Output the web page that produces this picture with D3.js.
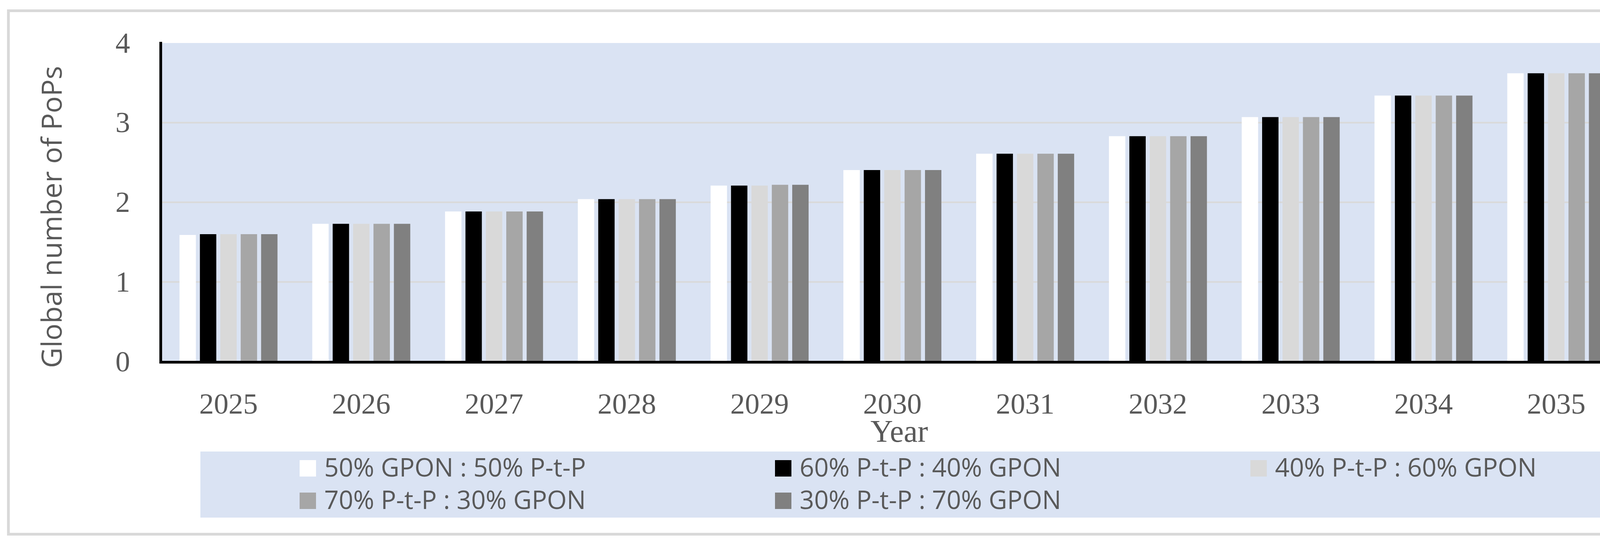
<!DOCTYPE html>
<html>
<head>
<meta charset="utf-8">
<script src="https://cdn.jsdelivr.net/npm/d3@7"></script>
<style>
  html, body { margin: 0; padding: 0; background: #fff; overflow: hidden; }
  svg { display: block; }
  .tick text { fill: #595959; }
</style>
</head>
<body>
<div id="chart"></div>
<script>
(function (d3) {
    'use strict';

    // Data.
    var years = ['2025', '2026', '2027', '2028', '2029', '2030', '2031', '2032', '2033', '2034', '2035'];
    var seriesNames = [
        '50% GPON : 50% P-t-P',
        '60% P-t-P : 40% GPON',
        '40% P-t-P : 60% GPON',
        '70% P-t-P : 30% GPON',
        '30% P-t-P : 70% GPON'
    ];
    var gpon50 = [1.59, 1.73, 1.885, 2.04, 2.21, 2.405, 2.61, 2.83, 3.07, 3.34, 3.62];
    var ptp60 = [1.60, 1.73, 1.885, 2.04, 2.21, 2.405, 2.61, 2.83, 3.07, 3.34, 3.62];
    var ptp40 = [1.60, 1.73, 1.885, 2.04, 2.21, 2.405, 2.61, 2.83, 3.07, 3.34, 3.62];
    var ptp70 = [1.60, 1.73, 1.885, 2.04, 2.22, 2.405, 2.61, 2.83, 3.07, 3.34, 3.62];
    var ptp30 = [1.60, 1.73, 1.885, 2.04, 2.22, 2.405, 2.61, 2.83, 3.07, 3.34, 3.62];
    var yTicks = [0, 1, 2, 3, 4];

    var seriesValues = [gpon50, ptp60, ptp40, ptp70, ptp30];
    var colors = ['#ffffff', '#000000', '#d9d9d9', '#a6a6a6', '#808080'];

    var W = 4271, H = 1389;
    var plot = {left: 415, right: 4154, top: 110, bottom: 925};

    var svg = d3.select('#chart').append('svg')
        .attr('width', W)
        .attr('height', H);

    // Outer frame
    svg.append('rect')
        .attr('x', 21.5).attr('y', 27.5)
        .attr('width', 4225).attr('height', 1339)
        .attr('fill', '#fff')
        .attr('stroke', '#d9d9d9')
        .attr('stroke-width', 7);

    var x0 = d3.scaleBand()
        .domain(years)
        .range([plot.left, plot.right])
        .paddingInner(0.262)
        .paddingOuter(0.131);

    var x1 = d3.scaleBand()
        .domain(d3.range(seriesNames.length))
        .range([0, x0.bandwidth()])
        .paddingInner(0.197);

    var y = d3.scaleLinear()
        .domain([0, 4])
        .range([plot.bottom, plot.top]);

    // Plot background
    svg.append('rect')
        .attr('x', plot.left).attr('y', plot.top)
        .attr('width', plot.right - plot.left)
        .attr('height', plot.bottom - plot.top)
        .attr('fill', '#dae3f3');

    // Gridlines
    svg.append('g')
        .selectAll('line')
        .data(yTicks.filter(function (t) { return t > 0 && t < 4; }))
        .join('line')
        .attr('x1', plot.left).attr('x2', plot.right)
        .attr('y1', function (d) { return y(d); })
        .attr('y2', function (d) { return y(d); })
        .attr('stroke', '#d9d9d9')
        .attr('stroke-width', 4);

    // Bars
    var groups = svg.append('g')
        .selectAll('g')
        .data(years)
        .join('g')
        .attr('transform', function (d) { return 'translate(' + x0(d) + ',0)'; });

    groups.selectAll('rect')
        .data(function (d, i) {
            return seriesValues.map(function (s, k) { return {k: k, v: s[i]}; });
        })
        .join('rect')
        .attr('x', function (d) { return x1(d.k); })
        .attr('width', x1.bandwidth())
        .attr('y', function (d) { return y(d.v); })
        .attr('height', function (d) { return y(0) - y(d.v); })
        .attr('fill', function (d) { return colors[d.k]; });

    // Y axis labels
    var yAxis = svg.append('g')
        .attr('transform', 'translate(' + (plot.left - 7) + ',0)')
        .call(d3.axisLeft(y).tickValues(yTicks).tickFormat(d3.format('d')).tickSize(0).tickPadding(75));
    yAxis.select('.domain').remove();
    yAxis.selectAll('text')
        .attr('font-family', '"Liberation Serif", serif')
        .attr('font-size', 75);

    // X axis labels
    var xAxis = svg.append('g')
        .attr('transform', 'translate(0,' + plot.bottom + ')')
        .call(d3.axisBottom(x0).tickSize(0).tickPadding(80));
    xAxis.select('.domain').remove();
    xAxis.selectAll('text')
        .attr('font-family', '"Liberation Serif", serif')
        .attr('font-size', 75);

    // Axis lines
    svg.append('line')
        .attr('x1', plot.left - 3.5).attr('x2', plot.left - 3.5)
        .attr('y1', plot.top - 3).attr('y2', plot.bottom + 5)
        .attr('stroke', '#000').attr('stroke-width', 7);
    svg.append('line')
        .attr('x1', plot.left - 7).attr('x2', plot.right + 4)
        .attr('y1', plot.bottom + 1.5).attr('y2', plot.bottom + 1.5)
        .attr('stroke', '#000').attr('stroke-width', 7);

    // Axis titles
    svg.append('text')
        .attr('transform', 'translate(158,555) rotate(-90)')
        .attr('text-anchor', 'middle')
        .attr('font-family', '"Open Sans", sans-serif')
        .attr('font-size', 72)
        .attr('fill', '#595959')
        .text('Global number of PoPs');

    svg.append('text')
        .attr('x', 2302).attr('y', 1130)
        .attr('text-anchor', 'middle')
        .attr('font-family', '"Liberation Serif", serif')
        .attr('font-size', 80)
        .attr('fill', '#595959')
        .text('Year');

    // Legend
    svg.append('rect')
        .attr('x', 513).attr('y', 1155)
        .attr('width', 3650).attr('height', 169)
        .attr('fill', '#dae3f3');

    var legend = svg.append('g')
        .selectAll('g')
        .data(seriesNames)
        .join('g')
        .attr('transform', function (d, i) {
            return 'translate(' + (767 + (i % 3) * 1217) + ',' + (1177 + Math.floor(i / 3) * 83) + ')';
        });

    legend.append('rect')
        .attr('width', 42).attr('height', 42)
        .attr('fill', function (d, i) { return colors[i]; });

    legend.append('text')
        .attr('x', 63).attr('y', 42)
        .attr('font-family', '"Open Sans", sans-serif')
        .attr('font-size', 65)
        .attr('fill', '#595959')
        .text(function (d) { return d; });
})(d3);
</script>
</body>
</html>
